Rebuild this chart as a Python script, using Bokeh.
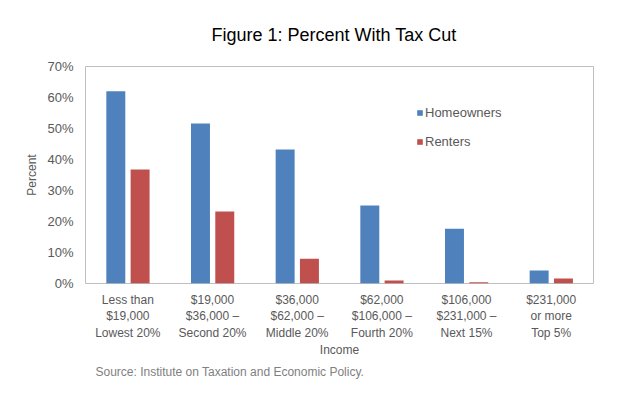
from bokeh.plotting import figure
from bokeh.models import (FactorRange, FixedTicker, NumeralTickFormatter, Legend, LegendItem,
                          ColumnDataSource, Title)
from bokeh.transform import dodge
from bokeh.embed import file_html
from bokeh.resources import INLINE

categories = [
    "Less than\n$19,000\nLowest 20%",
    "$19,000\n$36,000 \u2013\nSecond 20%",
    "$36,000\n$62,000 \u2013\nMiddle 20%",
    "$62,000\n$106,000 \u2013\nFourth 20%",
    "$106,000\n$231,000 \u2013\nNext 15%",
    "$231,000\nor more\nTop 5%",
]
homeowners = [0.62, 0.516, 0.432, 0.252, 0.177, 0.042]
renters = [0.368, 0.232, 0.08, 0.01, 0.004, 0.016]
y_ticks = [0, 0.1, 0.2, 0.3, 0.4, 0.5, 0.6, 0.7]

BLUE = "#4F81BD"
RED = "#C0504D"
GRAY_TXT = "#595959"
FONT = "Liberation Sans"

src = ColumnDataSource(dict(cat=categories, home=homeowners, rent=renters))

p = figure(width=604, height=381, x_range=FactorRange(*categories), y_range=(0, 0.7),
           output_backend="svg", toolbar_location=None,
           min_border_left=85, min_border_right=11, min_border_top=66, min_border_bottom=98,
           title="Figure 1: Percent With Tax Cut")

p.title.text_font = FONT
p.title.text_font_size = "18px"
p.title.text_font_style = "normal"
p.title.text_color = "#000000"
p.title.align = "left"
p.title.offset = 126
p.title.standoff = 43

r1 = p.vbar(x=dodge("cat", -0.142, range=p.x_range), top="home", width=0.224, source=src,
            fill_color=BLUE, line_color=None)
r2 = p.vbar(x=dodge("cat", 0.145, range=p.x_range), top="rent", width=0.224, source=src,
            fill_color=RED, line_color=None)

p.grid.visible = False
p.outline_line_color = "#BFBFBF"
p.outline_line_width = 1
p.background_fill_color = "white"
p.border_fill_color = "white"

# y axis
p.yaxis.ticker = FixedTicker(ticks=y_ticks)
p.yaxis.formatter = NumeralTickFormatter(format="0%")
p.yaxis.axis_line_color = None
p.yaxis.major_tick_line_color = None
p.yaxis.minor_tick_line_color = None
p.yaxis.major_label_text_font = FONT
p.yaxis.major_label_text_font_size = "13px"
p.yaxis.major_label_text_color = GRAY_TXT
p.yaxis.major_label_standoff = 6
p.yaxis.axis_label = "Percent"
p.yaxis.axis_label_text_font = FONT
p.yaxis.axis_label_text_font_size = "12px"
p.yaxis.axis_label_text_font_style = "normal"
p.yaxis.axis_label_text_color = GRAY_TXT
p.yaxis.axis_label_standoff = 5

# x axis
p.xaxis.axis_line_color = None
p.xaxis.major_tick_line_color = None
p.xaxis.minor_tick_line_color = None
p.xaxis.major_label_text_font = FONT
p.xaxis.major_label_text_font_size = "12px"
p.xaxis.major_label_text_color = GRAY_TXT
p.xaxis.major_label_standoff = 3
p.xaxis.axis_label = "Income"
p.xaxis.axis_label_text_font = FONT
p.xaxis.axis_label_text_font_size = "12px"
p.xaxis.axis_label_text_font_style = "normal"
p.xaxis.axis_label_text_color = GRAY_TXT
p.xaxis.axis_label_standoff = 0

legend = Legend(items=[LegendItem(label="Homeowners", renderers=[r1]),
                       LegendItem(label="Renters", renderers=[r2])],
                location=(331, 134))
legend.glyph_width = 7
legend.glyph_height = 7
legend.label_text_font = FONT
legend.label_text_font_size = "13px"
legend.label_text_color = GRAY_TXT
legend.label_standoff = 2
legend.padding = 0
legend.margin = 0
legend.spacing = 14
legend.border_line_color = None
legend.background_fill_alpha = 0
p.add_layout(legend)

source_title = Title(text="Source: Institute on Taxation and Economic Policy.",
                     text_font=FONT, text_font_size="12px", text_font_style="normal",
                     text_color="#7F7F7F", align="left", offset=10, standoff=5)
p.add_layout(source_title, "below")

open("out.html", "w").write(file_html(p, INLINE))
